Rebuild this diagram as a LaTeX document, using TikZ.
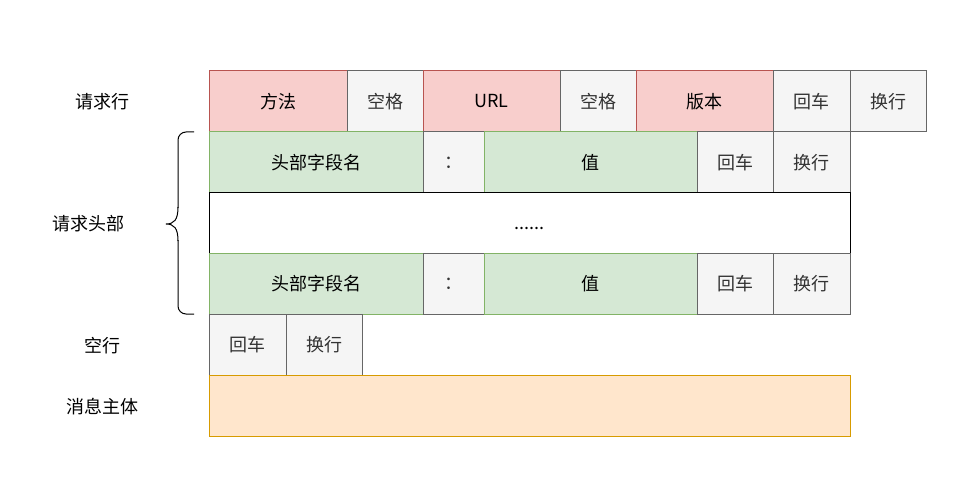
\documentclass[tikz,border=0pt]{standalone}
\usepackage{fontspec}
\setmainfont{Noto Sans CJK SC}
\usepackage{xcolor}
\definecolor{redfill}{HTML}{F8CECC}
\definecolor{redline}{HTML}{B85450}
\definecolor{grayfill}{HTML}{F5F5F5}
\definecolor{grayline}{HTML}{666666}
\definecolor{greenfill}{HTML}{D5E8D4}
\definecolor{greenline}{HTML}{82B366}
\definecolor{orangefill}{HTML}{FFE6CC}
\definecolor{orangeline}{HTML}{D79B00}
\tikzset{
  cell/.style={draw, line width=1pt, anchor=north west, inner sep=0pt, outer sep=0pt,
    minimum height=61pt, font=\fontsize{18}{21}\selectfont},
  redcell/.style={cell, fill=redfill, draw=redline},
  graycell/.style={cell, fill=grayfill, draw=grayline, text=black!80},
  greencell/.style={cell, fill=greenfill, draw=greenline},
  label/.style={font=\fontsize{18}{21}\selectfont}
}

\begin{document}
\begin{tikzpicture}[x=1pt, y=-1pt]
\useasboundingbox (0,0) rectangle (977,500);
% row labels
\node[label] (lineLbl) at (102,102) {请求行};
\node[label] (headLbl) at (88,224) {请求头部};
\node[label] (emptyLbl) at (102,346) {空行};
\node[label] (bodyLbl) at (102,407) {消息主体};
% request line
\node[redcell, minimum width=138pt] (method) at (209,71) {方法};
\node[graycell, minimum width=76pt] (sp1) at (347,71) {空格};
\node[redcell, minimum width=137pt] (url) at (423,71) {URL};
\node[graycell, minimum width=76pt] (sp2) at (560,71) {空格};
\node[redcell, minimum width=137pt] (version) at (636,71) {版本};
\node[graycell, minimum width=77pt] (cr1) at (773,71) {回车};
\node[graycell, minimum width=76pt] (lf1) at (850,71) {换行};
% header fields
\node[greencell, minimum width=214pt] (name1) at (209,132) {头部字段名};
\node[graycell, minimum width=61pt] (colon1) at (423,132) {：};
\node[greencell, minimum width=213pt] (value1) at (484,132) {值};
\node[graycell, minimum width=76pt] (cr2) at (697,132) {回车};
\node[graycell, minimum width=77pt] (lf2) at (773,132) {换行};
\node[cell, minimum width=641pt, fill=white, draw=black] (dots) at (209,192) {\raisebox{-7pt}[0pt][0pt]{......}};
\node[greencell, minimum width=214pt] (name2) at (209,253) {头部字段名};
\node[graycell, minimum width=61pt] (colon2) at (423,253) {：};
\node[greencell, minimum width=213pt] (value2) at (484,253) {值};
\node[graycell, minimum width=76pt] (cr3) at (697,253) {回车};
\node[graycell, minimum width=77pt] (lf3) at (773,253) {换行};
% empty line
\node[graycell, minimum width=77pt] (cr4) at (209,314) {回车};
\node[graycell, minimum width=76pt] (lf4) at (286,314) {换行};
% body
\node[cell, minimum width=641pt, fill=orangefill, draw=orangeline] (body) at (209,375) {};
% brace
\draw[line width=1pt, rounded corners=8pt] (194,132) -- (178,132) -- (178,208);
\draw[line width=1pt] (178,207) .. controls (178,220) and (174,224) .. (166,224)
  .. controls (174,224) and (178,228) .. (178,241);
\draw[line width=1pt, rounded corners=8pt] (178,240) -- (178,314) -- (194,314);
\end{tikzpicture}
\end{document}
